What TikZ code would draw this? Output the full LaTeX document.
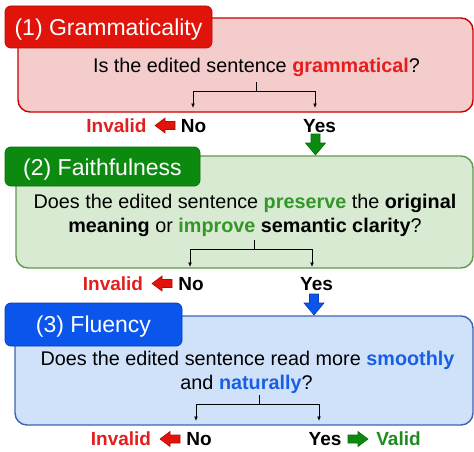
\documentclass[tikz,border=0pt]{standalone}
\usepackage{fontspec}
\setmainfont{Liberation Sans}
\usetikzlibrary{arrows.meta}
\definecolor{tabred}{RGB}{224,20,10}
\definecolor{tabredline}{RGB}{180,12,6}
\definecolor{pinkfill}{RGB}{244,204,204}
\definecolor{pinkline}{RGB}{204,0,0}
\definecolor{txtred}{RGB}{228,30,30}
\definecolor{tabgreen}{RGB}{12,138,16}
\definecolor{tabgreenline}{RGB}{8,110,12}
\definecolor{greenfill}{RGB}{217,234,211}
\definecolor{greenline}{RGB}{100,150,80}
\definecolor{txtgreen}{RGB}{50,150,40}
\definecolor{validgreen}{RGB}{30,140,30}
\definecolor{tabblue}{RGB}{10,85,235}
\definecolor{tabblueline}{RGB}{10,60,180}
\definecolor{bluefill}{RGB}{207,226,250}
\definecolor{blueline}{RGB}{60,100,180}
\definecolor{txtblue}{RGB}{25,95,230}
\tikzset{
  panel/.style={line width=1.4pt, rounded corners=12pt},
  tabbox/.style={rounded corners=6pt, line width=0.8pt},
  tabtext/.style={text=white, font=\fontsize{23}{27}\selectfont, inner sep=0pt, anchor=base},
  qtext/.style={font=\fontsize{19.8}{24}\selectfont, inner sep=0pt, anchor=base},
  lbl/.style={font=\bfseries\fontsize{19}{23}\selectfont, inner sep=0pt, anchor=base},
  fork/.style={line width=0.9pt, black},
  forkarrow/.style={fork, -{Latex[length=4.5pt,width=4pt]}},
  pics/downarrow/.style={code={
    \filldraw[line width=0.6pt, #1] (-10.5,-4.5) -- (-1.5,-4.5) -- (-1.5,-10) -- (10.5,0)
      -- (-1.5,10) -- (-1.5,4.5) -- (-10.5,4.5) -- cycle;}},
  pics/sidearrow/.style={code={
    \filldraw[line width=0.6pt, #1] (-10,-4) -- (0,-4) -- (0,-7.5) -- (10,0)
      -- (0,7.5) -- (0,4) -- (-10,4) -- cycle;}},
}
\begin{document}
\begin{tikzpicture}[x=1pt,y=-1pt]
\useasboundingbox (0,0) rectangle (474,452);
% ---------- panel 1
\draw[panel, draw=pinkline, fill=pinkfill] (18,18) rectangle (473,112);
\draw[tabbox, draw=tabredline, fill=tabred] (5,6) rectangle (212,48);
\node[tabtext] (t1) at (108.5,35.5) {(1) Grammaticality};
\node[qtext] (q1) at (256.5,72.5) {Is the edited sentence \textbf{\color{txtred}grammatical}?};
\coordinate (s1) at (256,82);
\coordinate (j1) at (256,91);
\coordinate (n1) at (193,108);
\coordinate (y1) at (315,108);
\draw[fork] (s1) -- (j1);
\draw[forkarrow] (j1) -| (n1);
\draw[forkarrow] (j1) -| (y1);
\node[lbl, text=txtred] (inv1) at (116.5,132.5) {Invalid};
\pic[rotate=180] (ra1) at (165,125.5) {sidearrow={draw=tabredline, fill=tabred}};
\node[lbl] (no1) at (193.5,132.5) {No};
\node[lbl] (yes1) at (319.5,132.5) {Yes};
\pic[rotate=-90] (da1) at (315.5,144.5) {downarrow={draw=tabgreenline, fill=tabgreen}};
% ---------- panel 2
\draw[panel, draw=greenline, fill=greenfill] (16,156) rectangle (473,268);
\draw[tabbox, draw=tabgreenline, fill=tabgreen] (5,147) rectangle (200,186);
\node[tabtext] (t2) at (102.5,175) {(2) Faithfulness};
\node[qtext] (q2a) at (245,208) {Does the edited sentence \textbf{\color{txtgreen}preserve} the \textbf{original}};
\node[qtext] (q2b) at (245,232) {\textbf{meaning} or \textbf{\color{txtgreen}improve} \textbf{semantic clarity}?};
\coordinate (s2) at (254,240);
\coordinate (j2) at (254,249);
\coordinate (n2) at (190,267);
\coordinate (y2) at (312,267);
\draw[fork] (s2) -- (j2);
\draw[forkarrow] (j2) -| (n2);
\draw[forkarrow] (j2) -| (y2);
\node[lbl, text=txtred] (inv2) at (113,290) {Invalid};
\pic[rotate=180] (ra2) at (162,283.5) {sidearrow={draw=tabredline, fill=tabred}};
\node[lbl] (no2) at (191,290) {No};
\node[lbl] (yes2) at (316.5,290) {Yes};
\pic[rotate=-90] (da2) at (314,304.5) {downarrow={draw=tabblueline, fill=tabblue}};
% ---------- panel 3
\draw[panel, draw=blueline, fill=bluefill] (15,316) rectangle (473,425);
\draw[tabbox, draw=tabblueline, fill=tabblue] (5,303) rectangle (182,346);
\node[tabtext] (t3) at (93.5,332.5) {(3) Fluency};
\node[qtext] (q3a) at (247.5,365.5) {Does the edited sentence read more \textbf{\color{txtblue}smoothly}};
\node[qtext] (q3b) at (246.5,389.5) {and \textbf{\color{txtblue}naturally}?};
\coordinate (s3) at (259,395);
\coordinate (j3) at (259,404);
\coordinate (n3) at (196,421);
\coordinate (y3) at (319,421);
\draw[fork] (s3) -- (j3);
\draw[forkarrow] (j3) -| (n3);
\draw[forkarrow] (j3) -| (y3);
\node[lbl, text=txtred] (inv3) at (121,445.5) {Invalid};
\pic[rotate=180] (ra3) at (170,439) {sidearrow={draw=tabredline, fill=tabred}};
\node[lbl] (no3) at (199,445.5) {No};
\node[lbl] (yes3) at (325,445.5) {Yes};
\pic (ga3) at (358,439) {sidearrow={draw=tabgreenline, fill=tabgreen}};
\node[lbl, text=validgreen] (val3) at (398.5,445.5) {Valid};
\end{tikzpicture}
\end{document}
